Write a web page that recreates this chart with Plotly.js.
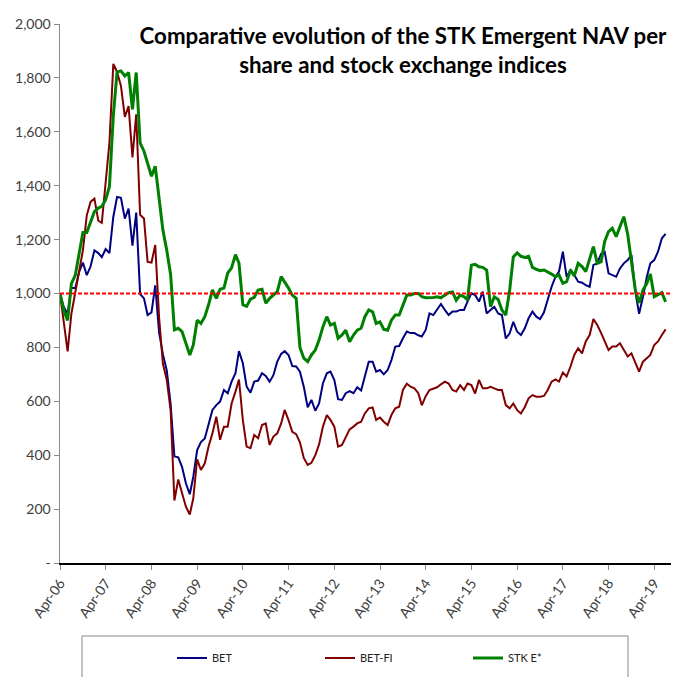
<!DOCTYPE html>
<html>
<head>
<meta charset="utf-8">
<script src="https://cdn.plot.ly/plotly-3.0.1.min.js"></script>
<style>html,body{margin:0;padding:0;background:#fff;}#chart{width:673px;height:677px;}</style>
</head>
<body>
<div id="chart"></div>
<script>
// Monthly observations, starting April 2006 (index 0) through July 2019
const startYear = 2006, startMonth = 4;
const bet = [1000,950,925,1020,1020,1080,1115,1068,1100,1160,1150,1135,1165,1150,1285,1358,1355,1278,1315,1178,
1300,998,982,920,930,1030,855,775,715,590,395,392,357,296,255,320,419,449,462,512,
568,586,599,642,630,673,704,786,741,655,632,673,677,704,694,673,697,747,776,786,
772,731,729,710,654,578,605,565,592,667,704,710,679,608,605,630,638,630,652,640,
692,747,747,710,716,700,716,753,803,805,834,859,853,853,845,840,865,926,920,939,
961,939,920,933,933,939,939,970,1001,994,970,1007,926,939,951,926,920,833,852,895,
858,846,871,908,933,914,905,930,976,1025,1062,1081,1155,1062,1087,1069,1044,1040,1031,1025,
1106,1112,1148,1155,1075,1069,1062,1093,1112,1124,1143,1007,925,988,1062,1112,1124,1155,1205,1221];
const betFi = [1000,900,785,925,1000,1075,1160,1290,1340,1352,1270,1262,1400,1560,1852,1822,1770,1655,1695,1505,
1665,1292,1278,1117,1115,1180,910,740,680,565,232,310,260,209,180,240,385,345,370,432,
481,543,457,506,506,592,636,681,530,432,426,475,463,512,518,438,469,481,518,568,
530,487,478,448,390,364,372,400,440,506,549,531,506,432,438,469,496,506,518,524,
555,574,577,531,540,524,512,549,574,580,642,665,654,648,630,585,619,642,648,652,
663,673,666,642,636,660,642,666,660,629,679,648,648,654,648,642,642,586,574,592,
567,555,579,611,623,617,617,620,642,673,681,673,707,692,729,772,797,778,822,846,
905,883,853,822,790,803,803,815,790,766,778,741,710,747,760,772,809,822,846,867];
const stkE = [1000,938,900,1037,1068,1149,1226,1226,1261,1304,1317,1323,1348,1397,1660,1822,1826,1807,1820,1683,
1820,1559,1528,1484,1435,1472,1348,1236,1160,1070,865,871,859,815,772,809,901,889,914,958,
1013,982,1016,1020,1076,1095,1144,1113,958,952,979,986,1013,1016,964,982,994,1007,1063,1044,
1020,994,982,800,760,747,772,790,827,877,914,883,889,834,846,864,821,846,864,871,
914,939,932,889,895,867,864,901,920,920,958,994,994,1000,1000,988,984,984,985,988,
984,994,1003,1006,975,994,988,976,1105,1108,1099,1097,1087,951,988,978,939,920,1013,1136,
1151,1138,1134,1138,1097,1090,1085,1087,1081,1072,1062,1069,1038,1044,1087,1065,1112,1100,1081,1124,
1174,1112,1118,1193,1230,1242,1211,1248,1285,1220,1116,1013,965,1013,1038,1072,988,994,1003,969];
const seriesNames = ['BET', 'BET-FI', 'STK E*'];
const baseline = 1000;
const yTickVals = [0,200,400,600,800,1000,1200,1400,1600,1800,2000];
const yTickText = ['-','200','400','600','800','1,000','1,200','1,400','1,600','1,800','2,000'];
const xTickYears = [2006,2007,2008,2009,2010,2011,2012,2013,2014,2015,2016,2017,2018,2019];
const xTickText = ['Apr-06','Apr-07','Apr-08','Apr-09','Apr-10','Apr-11','Apr-12','Apr-13','Apr-14','Apr-15','Apr-16','Apr-17','Apr-18','Apr-19'];

function monthDate(i) {
  const total = (startMonth - 1) + i;
  const y = startYear + Math.floor(total / 12);
  const m = (total % 12) + 1;
  return y + '-' + String(m).padStart(2, '0') + '-01';
}
const dates = bet.map((_, i) => monthDate(i));
const xTickVals = xTickYears.map(y => y + '-04-01');

const FONT = 'Lato, "Liberation Sans", sans-serif';

const traces = [
  {x: dates, y: bet, name: seriesNames[0], type: 'scatter', mode: 'lines', line: {color: '#000080', width: 2}},
  {x: dates, y: betFi, name: seriesNames[1], type: 'scatter', mode: 'lines', line: {color: '#800000', width: 2}},
  {x: dates, y: stkE, name: seriesNames[2], type: 'scatter', mode: 'lines', line: {color: '#008000', width: 3}}
];

const layout = {
  width: 673, height: 677,
  margin: {l: 60, r: 2, t: 24, b: 114},
  paper_bgcolor: '#fff', plot_bgcolor: '#fff',
  showlegend: true,
  title: {
    text: '<b>Comparative evolution of the STK Emergent NAV per<br>share and stock exchange indices</b>',
    font: {family: FONT, size: 22.3, color: '#000'},
    x: 403/673, xanchor: 'center', xref: 'container',
    y: 1 - 44/677, yanchor: 'top', yref: 'container'
  },
  xaxis: {
    type: 'date',
    range: ['2006-04-01', '2019-08-13'],
    tickmode: 'array', tickvals: xTickVals, ticktext: xTickText,
    tickangle: -55,
    ticks: 'outside', ticklen: 5, tickcolor: '#888', tickwidth: 1,
    showline: true, linecolor: '#000', linewidth: 1.5,
    showgrid: false, zeroline: false,
    tickfont: {family: FONT, size: 14, color: '#404040'}
  },
  yaxis: {
    range: [0, 2000],
    tickmode: 'array', tickvals: yTickVals, ticktext: yTickText,
    ticks: 'outside', ticklen: 5, tickcolor: '#888', tickwidth: 1,
    showline: true, linecolor: '#888', linewidth: 1.5,
    showgrid: false, zeroline: false,
    tickfont: {family: FONT, size: 14, color: '#404040'}
  },
  shapes: [
    {type: 'line', xref: 'paper', x0: 0, x1: 1, yref: 'y', y0: baseline, y1: baseline,
     line: {color: '#ff0000', width: 2, dash: '4px,2px'}},
    {type: 'rect', xref: 'paper', yref: 'paper', x0: (82-60)/611, x1: (628-60)/611,
     y0: (563-700)/539, y1: (563-636)/539, line: {color: '#888', width: 1}, fillcolor: 'rgba(0,0,0,0)'}
  ],
  legend: {
    orientation: 'h', x: (172-60)/611, xanchor: 'left', y: (563-658)/539, yanchor: 'middle',
    yref: 'paper', xref: 'paper',
    itemwidth: 30, entrywidth: 103, entrywidthmode: 'pixels',
    font: {family: FONT, size: 11, color: '#222'},
    bgcolor: 'rgba(0,0,0,0)', borderwidth: 0
  }
};

Plotly.newPlot('chart', traces, layout, {displayModeBar: false, staticPlot: true});
</script>
</body>
</html>
